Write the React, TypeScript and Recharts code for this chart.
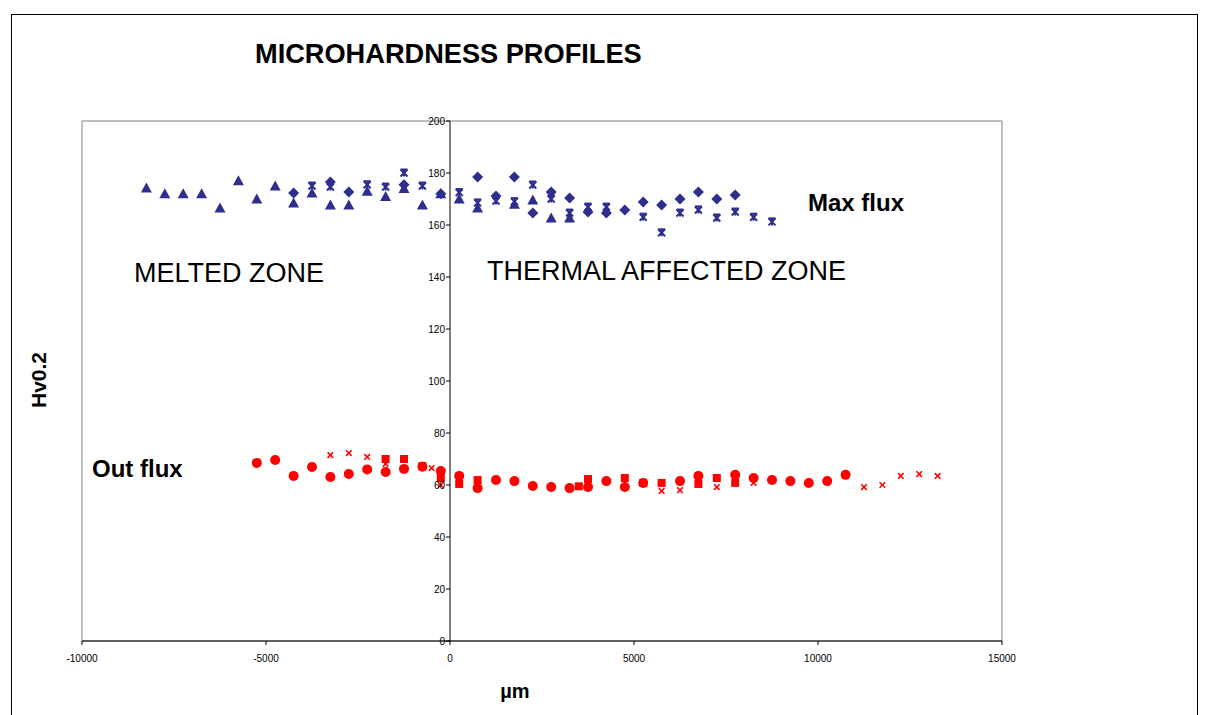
import React from 'react';
import { ScatterChart, Scatter, XAxis, YAxis, ReferenceLine, ReferenceArea } from 'recharts';

// ---- data (x in µm, y in Hv0.2) ----
const X_TICKS = [-10000, -5000, 0, 5000, 10000, 15000];
const Y_TICKS = [0, 20, 40, 60, 80, 100, 120, 140, 160, 180, 200];

const maxFluxDiamonds: [number, number][] = [
  [-4250, 172.3], [-3250, 176.5], [-2750, 172.7], [-1250, 175.5], [-250, 172],
  [750, 178.5], [1250, 171.2], [1750, 178.5], [2250, 164.6], [2750, 172.7],
  [3250, 170.4], [3750, 165], [4250, 164.6], [4750, 165.8], [5250, 168.8],
  [5750, 167.7], [6250, 170], [6750, 172.7], [7250, 170], [7750, 171.5],
];
const maxFluxTriangles: [number, number][] = [
  [-8250, 174.2], [-7750, 172], [-7250, 172], [-6750, 172], [-6250, 166.5],
  [-5750, 177], [-5250, 170], [-4750, 175], [-4250, 168.5], [-3750, 172.3],
  [-3250, 167.7], [-2750, 167.7], [-2250, 173], [-1750, 171], [-1250, 174],
  [-750, 167.7], [-250, 172], [250, 170], [750, 166.5], [1750, 168],
  [2250, 169.6], [2750, 162.7], [3250, 162.7],
];
const maxFluxStars: [number, number][] = [
  [-3750, 175], [-3250, 174.6], [-2250, 175.5], [-1750, 174.6], [-1250, 180],
  [-750, 175], [250, 172.5], [750, 168.5], [1250, 169.2], [1750, 169],
  [2250, 175.4], [2750, 170], [3250, 164.6], [3750, 166.9], [4250, 166.9],
  [5250, 163], [5750, 157], [6250, 164.6], [6750, 165.8], [7250, 162.7],
  [7750, 165], [8250, 163], [8750, 161.2],
];
const outFluxCircles: [number, number][] = [
  [-5250, 68.5], [-4750, 69.6], [-4250, 63.5], [-3750, 66.9], [-3250, 63.1],
  [-2750, 64.2], [-2250, 66], [-1750, 65], [-1250, 66.2], [-750, 67],
  [-250, 65.4], [250, 63.5], [750, 58.8], [1250, 61.9], [1750, 61.5],
  [2250, 59.6], [2750, 59.2], [3250, 58.8], [3750, 59.2], [4250, 61.5],
  [4750, 59.2], [5250, 60.8], [6250, 61.5], [6750, 63.5], [7750, 63.9],
  [8250, 62.7], [8750, 61.9], [9250, 61.5], [9750, 60.8], [10250, 61.5],
  [10750, 63.9],
];
const outFluxSquares: [number, number][] = [
  [-1750, 70], [-1250, 70], [-750, 67.3], [-250, 62.7], [250, 60.4],
  [750, 61.9], [3500, 59.5], [3750, 62.3], [4750, 62.7], [5250, 60.8],
  [5750, 60.8], [6750, 60.4], [7250, 62.7], [7750, 60.8],
];
const outFluxCrosses: [number, number][] = [
  [-3250, 71.5], [-2750, 72.3], [-2250, 70.8], [-1750, 68.1], [-500, 66.5],
  [-250, 60], [3250, 58.5], [5750, 57.7], [6250, 58], [7250, 59.2],
  [8250, 60.8], [10750, 64.2], [11250, 59.2], [11750, 60], [12250, 63.5],
  [12750, 64.2], [13250, 63.5],
];

// ---- layout / style ----
const W = 1208;
const H = 715;
const X_AXIS_H = 30;
const Y_AXIS_W = 1;
const MARGIN = { top: 121, right: 206, bottom: 74 - X_AXIS_H, left: 82 - Y_AXIS_W };
const X_DOMAIN: [number, number] = [-10000, 15000];
const Y_DOMAIN: [number, number] = [0, 200];
const PLOT_LEFT = MARGIN.left + Y_AXIS_W;
const PLOT_W = W - PLOT_LEFT - MARGIN.right;
const ZERO_X = PLOT_LEFT + (PLOT_W * (0 - X_DOMAIN[0])) / (X_DOMAIN[1] - X_DOMAIN[0]);

const BLUE = '#2E2E8E';
const RED = '#FF0000';
const FONT = 'Arial, "Liberation Sans", Helvetica, sans-serif';

const toPts = (arr: [number, number][]) => arr.map(([x, y]) => ({ x, y }));

const Diamond = (p: any) => {
  const { cx, cy } = p;
  return <polygon points={`${cx},${cy - 5.5} ${cx + 5.5},${cy} ${cx},${cy + 5.5} ${cx - 5.5},${cy}`} fill={BLUE} />;
};
const Triangle = (p: any) => {
  const { cx, cy } = p;
  return <polygon points={`${cx},${cy - 5.5} ${cx + 5.5},${cy + 4.5} ${cx - 5.5},${cy + 4.5}`} fill={BLUE} />;
};
const Star = (p: any) => {
  const { cx, cy } = p;
  const s = 3.5;
  return (
    <g stroke={BLUE} strokeWidth={2}>
      <line x1={cx - s} y1={cy - s} x2={cx + s} y2={cy + s} />
      <line x1={cx - s} y1={cy + s} x2={cx + s} y2={cy - s} />
      <line x1={cx} y1={cy - s} x2={cx} y2={cy + s} />
      <line x1={cx - s} y1={cy - s} x2={cx + s} y2={cy - s} />
    </g>
  );
};
const Dot = (p: any) => <circle cx={p.cx} cy={p.cy} r={5} fill={RED} />;
const Sq = (p: any) => <rect x={p.cx - 4} y={p.cy - 4} width={8} height={8} fill={RED} />;
const Cross = (p: any) => {
  const { cx, cy } = p;
  const s = 2.8;
  return (
    <g stroke={RED} strokeWidth={1.6}>
      <line x1={cx - s} y1={cy - s} x2={cx + s} y2={cy + s} />
      <line x1={cx - s} y1={cy + s} x2={cx + s} y2={cy - s} />
    </g>
  );
};

const YTick = (p: any) => {
  const { y, payload } = p;
  return (
    <g>
      <line x1={ZERO_X - 4} x2={ZERO_X} y1={y} y2={y} stroke="#000" />
      <text x={ZERO_X - 5} y={y} dy={3.5} textAnchor="end" fontSize={10} fontFamily={FONT} fill="#000">
        {payload.value}
      </text>
    </g>
  );
};

export default function App() {
  return (
    <div style={{ position: 'relative', width: W, height: H, background: '#fff', overflow: 'hidden' }}>
      <style>{`body{margin:0;}`}</style>
      <div
        style={{
          position: 'absolute', left: 11, top: 14, width: 1187, height: 720,
          border: '1px solid #000', boxSizing: 'border-box',
        }}
      />
      <div style={{ position: 'absolute', left: 0, top: 0 }}>
        <ScatterChart width={W} height={H} margin={MARGIN}>
          <ReferenceArea x1={X_DOMAIN[0]} x2={X_DOMAIN[1]} y1={Y_DOMAIN[0]} y2={Y_DOMAIN[1]}
            fill="none" stroke="#808080" strokeWidth={1} ifOverflow="visible" />
          <XAxis type="number" dataKey="x" domain={X_DOMAIN} ticks={X_TICKS} interval={0}
            allowDataOverflow height={X_AXIS_H} tickSize={4} tickMargin={10}
            axisLine={{ stroke: '#000' }} tickLine={{ stroke: '#000' }}
            tick={{ fontSize: 10, fill: '#000', fontFamily: FONT }} />
          <YAxis type="number" dataKey="y" domain={Y_DOMAIN} ticks={Y_TICKS} interval={0}
            allowDataOverflow width={Y_AXIS_W} axisLine={false} tickLine={false} tick={<YTick />} />
          <ReferenceLine x={0} stroke="#000" strokeWidth={1} />
          <Scatter data={toPts(maxFluxTriangles)} shape={<Triangle />} isAnimationActive={false} />
          <Scatter data={toPts(maxFluxDiamonds)} shape={<Diamond />} isAnimationActive={false} />
          <Scatter data={toPts(maxFluxStars)} shape={<Star />} isAnimationActive={false} />
          <Scatter data={toPts(outFluxCircles)} shape={<Dot />} isAnimationActive={false} />
          <Scatter data={toPts(outFluxSquares)} shape={<Sq />} isAnimationActive={false} />
          <Scatter data={toPts(outFluxCrosses)} shape={<Cross />} isAnimationActive={false} />
        </ScatterChart>
      </div>
      <svg width={W} height={H} style={{ position: 'absolute', left: 0, top: 0, pointerEvents: 'none' }}>
        <g fontFamily={FONT} fill="#000">
          <text x={255} y={63} fontSize={27.2} fontWeight="bold">MICROHARDNESS PROFILES</text>
          <text x={134} y={282} fontSize={27}>MELTED ZONE</text>
          <text x={487} y={280} fontSize={27}>THERMAL AFFECTED ZONE</text>
          <text x={808} y={211} fontSize={24} fontWeight="bold">Max flux</text>
          <text x={92} y={477} fontSize={24} fontWeight="bold">Out flux</text>
          <text x={46} y={380} fontSize={21} fontWeight="bold" textAnchor="middle"
            transform="rotate(-90 46 380)">Hv0.2</text>
          <text x={515} y={698} fontSize={20} fontWeight="bold" textAnchor="middle">µm</text>
        </g>
      </svg>
    </div>
  );
}
